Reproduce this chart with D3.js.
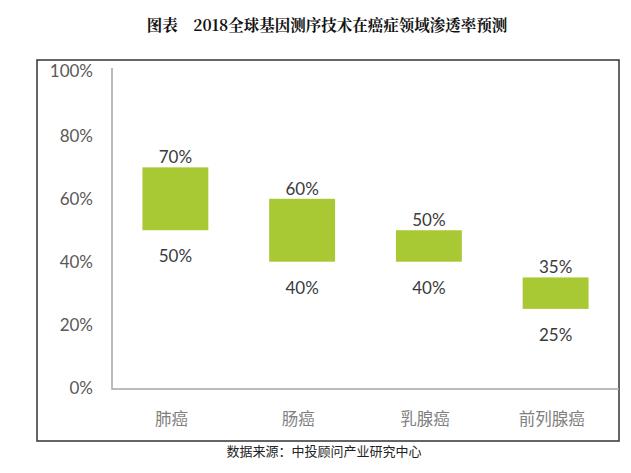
<!DOCTYPE html>
<html>
<head>
<meta charset="utf-8">
<script src="https://cdn.jsdelivr.net/npm/d3@7"></script>
<style>
  html, body { margin: 0; padding: 0; background: #fff; }
  svg { display: block; }
</style>
</head>
<body>
<svg id="chart" width="631" height="473"></svg>
<script>
// Cancer types and projected penetration range (low / high, %)
const categories = ["肺癌", "肠癌", "乳腺癌", "前列腺癌"];
const lowValues = [50, 40, 40, 25];
const highValues = [70, 60, 50, 35];
const yTicks = [0, 20, 40, 60, 80, 100];

const titleText = "图表　2018全球基因测序技术在癌症领域渗透率预测";
const sourceText = "数据来源：中投顾问产业研究中心";

const svg = d3.select("#chart");

const plot = { left: 112, right: 619, top: 73, bottom: 387.5 };

const x = d3.scaleBand()
  .domain(categories)
  .range([plot.left, plot.right])
  .paddingInner(0.48)
  .paddingOuter(0.24);

const y = d3.scaleLinear()
  .domain([0, 100])
  .range([plot.bottom, plot.top]);

const numFont = "Lato, 'Open Sans', sans-serif";
const cjkFont = "'Noto Sans CJK SC', sans-serif";

// Title
svg.append("text")
  .attr("x", 327).attr("y", 31)
  .attr("text-anchor", "middle")
  .attr("font-family", "'Noto Serif CJK SC', 'Noto Sans CJK SC', serif")
  .attr("font-weight", "bold")
  .attr("font-size", 15.5)
  .attr("fill", "#111")
  .text(titleText);

// Outer frame
svg.append("rect")
  .attr("x", 37).attr("y", 60)
  .attr("width", 582).attr("height", 381)
  .attr("fill", "none")
  .attr("stroke", "#333")
  .attr("stroke-width", 1.5);

// Y axis labels
const yAxis = d3.axisLeft(y)
  .tickValues(yTicks)
  .tickFormat(d => d + "%")
  .tickSize(0)
  .tickPadding(0);

const gy = svg.append("g")
  .attr("transform", `translate(93,0)`)
  .call(yAxis);
gy.select(".domain").remove();
gy.selectAll("text")
  .attr("font-family", numFont)
  .attr("font-size", 17)
  .attr("fill", "#595959")
  .attr("dy", d => d === 100 ? "0.22em" : "0.35em");

// Axis lines (left and bottom)
svg.append("path")
  .attr("d", `M${plot.left},${y(100) - 5}V${y(0) + 1.5}H${plot.right}`)
  .attr("fill", "none")
  .attr("stroke", "#a6a6a6")
  .attr("stroke-width", 1.5);

// Floating range bars
svg.append("g")
  .selectAll("rect")
  .data(categories)
  .join("rect")
  .attr("x", d => x(d))
  .attr("width", x.bandwidth())
  .attr("y", (d, i) => y(highValues[i]))
  .attr("height", (d, i) => y(lowValues[i]) - y(highValues[i]))
  .attr("fill", "#a9c934");

// High value labels above bars
svg.append("g")
  .selectAll("text")
  .data(categories)
  .join("text")
  .attr("x", d => x(d) + x.bandwidth() / 2)
  .attr("y", (d, i) => y(highValues[i]) - 4)
  .attr("text-anchor", "middle")
  .attr("font-family", numFont)
  .attr("font-size", 17)
  .attr("fill", "#3a3a3a")
  .text((d, i) => highValues[i] + "%");

// Low value labels below bars
svg.append("g")
  .selectAll("text")
  .data(categories)
  .join("text")
  .attr("x", d => x(d) + x.bandwidth() / 2)
  .attr("y", (d, i) => y(lowValues[i]) + 32)
  .attr("text-anchor", "middle")
  .attr("font-family", numFont)
  .attr("font-size", 17)
  .attr("fill", "#3a3a3a")
  .text((d, i) => lowValues[i] + "%");

// Category labels
const xAxis = d3.axisBottom(x).tickSize(0).tickPadding(0);
const gx = svg.append("g")
  .attr("transform", `translate(-4,${plot.bottom + 32})`)
  .call(xAxis);
gx.select(".domain").remove();
gx.selectAll("text")
  .attr("font-family", cjkFont)
  .attr("font-size", 16.5)
  .attr("fill", "#7f7f7f")
  .attr("dy", "0.35em");

// Source note
svg.append("text")
  .attr("x", 324).attr("y", 456)
  .attr("text-anchor", "middle")
  .attr("font-family", cjkFont)
  .attr("font-size", 13)
  .attr("fill", "#222")
  .text(sourceText);
</script>
</body>
</html>
